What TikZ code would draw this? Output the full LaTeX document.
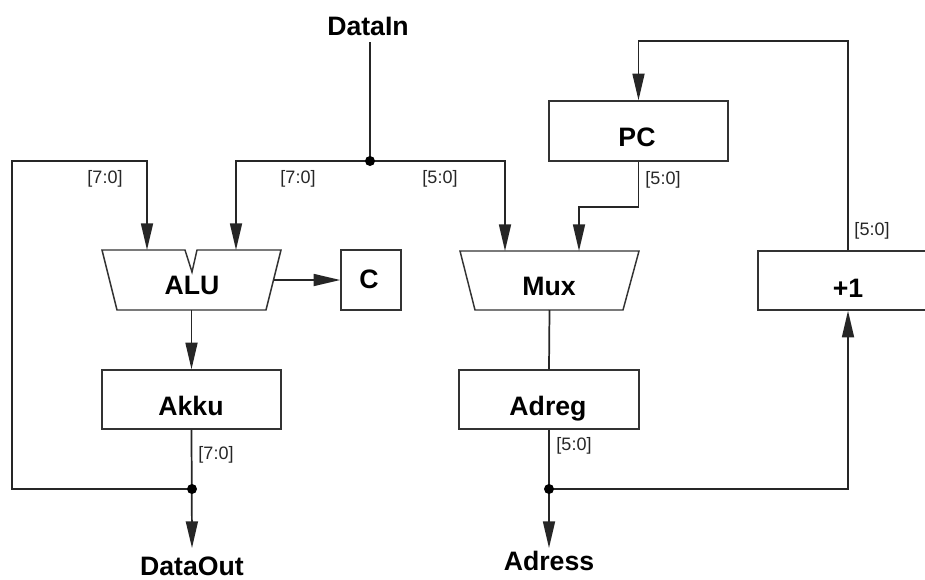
\documentclass[tikz,border=0pt]{standalone}
\usepackage{fontspec}
\setmainfont{Liberation Sans}
\usetikzlibrary{arrows.meta,calc}
\begin{document}
\begin{tikzpicture}[x=0.75pt,y=-0.75pt,
  wire/.style={draw=black!85,line width=1.3pt},
  arr/.style={wire,-{Triangle[length=20pt,width=9pt]}},
  blk/.style={draw=black!80,line width=1.1pt,fill=white,inner sep=0pt},
  frame/.style={inner sep=0pt,outer sep=0pt},
  ttl/.style={font=\bfseries\fontsize{20}{22}\selectfont,anchor=base,inner sep=0pt},
  bits/.style={font=\fontsize{13.5}{15}\selectfont,text=black!85,inner sep=0pt},
  jdot/.style={circle,fill=black,inner sep=0pt,minimum size=7.5pt}
]
\useasboundingbox (0,0) rectangle (925,579);
\clip (0,0) rectangle (925,579);

% ---------- blocks ----------
\node[frame,minimum width=134.25pt,minimum height=45pt] (alu) at (191.5,280) {};
\draw[blk] (102,250) -- (185,250) -- (192,272) -- (197,250) -- (281,250)
           -- (266,310) -- (117,310) -- cycle;
\node[ttl] (alut) at (192,294) {ALU};

\node[blk,minimum width=45pt,minimum height=45pt] (c) at (371,280) {};
\node[ttl] (ct) at (369,288) {C};

\node[blk,minimum width=134.25pt,minimum height=44.25pt] (akku) at (191.5,399.5) {};
\node[ttl] (akkut) at (191,415) {Akku};

\node[frame,minimum width=134.25pt,minimum height=44.25pt] (mux) at (549.5,280.5) {};
\draw[blk] (460,251) -- (639,251) -- (623,310) -- (475,310) -- cycle;
\node[ttl] (muxt) at (549,295) {Mux};

\node[blk,minimum width=134.25pt,minimum height=45pt] (pc) at (638.5,131) {};
\node[ttl] (pct) at (637,146) {PC};

\node[blk,minimum width=135pt,minimum height=44.25pt] (adreg) at (549,399.5) {};
\node[ttl] (adregt) at (548,415) {Adreg};

\node[blk,minimum width=135pt,minimum height=44.25pt] (plus) at (848,280.5) {};
\node[ttl] (plust) at (848,297) {+1};

% ---------- terminals ----------
\node[ttl] (datain) at (368,35) {DataIn};
\node[ttl] (dataout) at (192,575) {DataOut};
\node[ttl] (adress) at (549,570) {Adress};

% ---------- coordinates ----------
\coordinate (inTop) at (370,42);
\coordinate (jin) at (370,161);
\coordinate (jout) at (192,489);
\coordinate (jadr) at (549,489);
\coordinate (aluA) at (147,250);
\coordinate (aluB) at (236,250);
\coordinate (aluR) at (274,280);
\coordinate (muxA) at (505,251);
\coordinate (muxB) at (579,251);
\coordinate (outEnd) at (192,548);
\coordinate (adrEnd) at (549,548);

% ---------- wires ----------
\draw[wire] (inTop) -- (jin);
\draw[arr] (jin) -| (aluB);
\draw[arr] (jin) -| (muxA);
\draw[arr] (jout) -| (12,161) -| (aluA);
\draw[arr] (aluR) -- (c.west);
\draw[arr] (alu.south) -- (akku.north);
\draw[arr] (akku.south) -- (outEnd);
\draw[arr] (pc.south) -- ++(0,45) -| (muxB);
\draw[wire] (mux.south) -- (adreg.north);
\draw[arr] (adreg.south) -- (adrEnd);
\draw[arr] (jadr) -| (plus.south);
\draw[arr] (plus.north) -- ++(0,-209) -| (pc.north);

\node[jdot] (dotin) at (jin) {};
\node[jdot] (dotout) at (jout) {};
\node[jdot] (dotadr) at (jadr) {};

% ---------- bit labels ----------
\node[bits] (b1) at (105,179) {[7:0]};
\node[bits] (b2) at (298,179) {[7:0]};
\node[bits] (b3) at (440,179) {[5:0]};
\node[bits] (b4) at (663,180) {[5:0]};
\node[bits] (b5) at (872,231) {[5:0]};
\node[bits] (b6) at (216,455) {[7:0]};
\node[bits] (b7) at (574,446) {[5:0]};
\end{tikzpicture}
\end{document}
